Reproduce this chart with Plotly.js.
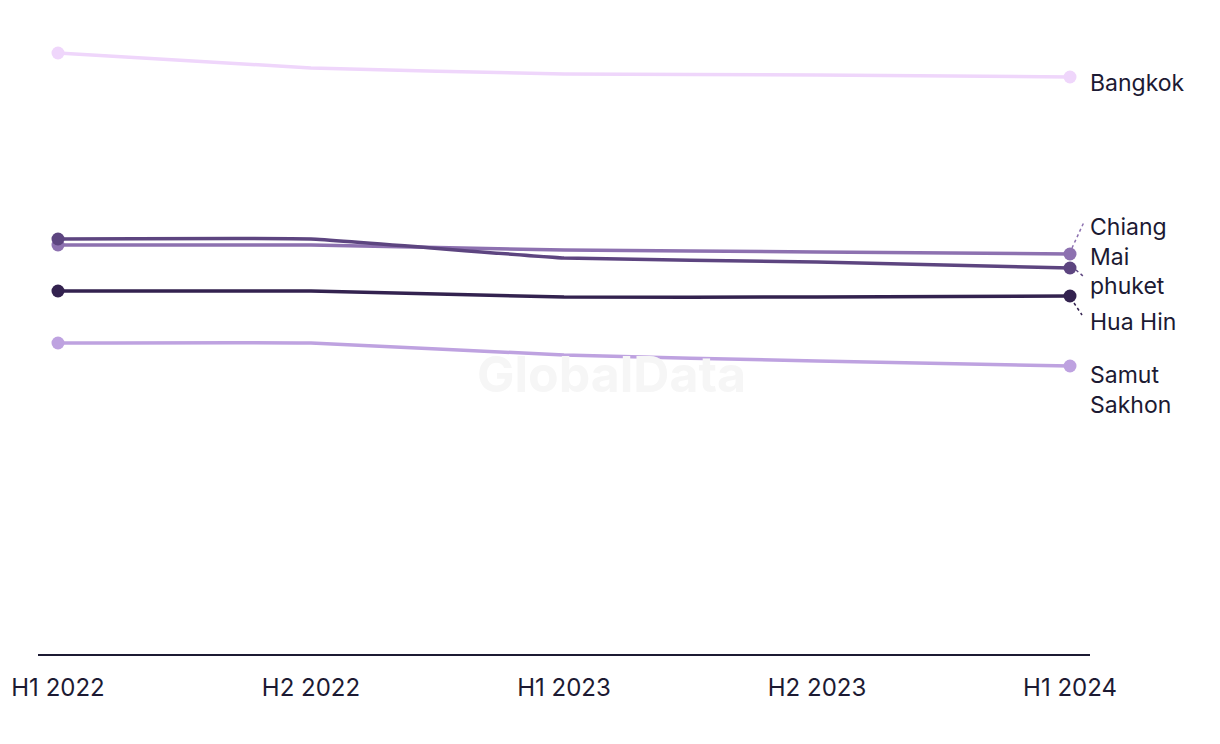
<!DOCTYPE html>
<html>
<head>
<meta charset="utf-8">
<script src="https://cdn.plot.ly/plotly-3.0.1.min.js"></script>
<style>html,body{margin:0;padding:0;background:#fff;}#chart{width:1220px;height:744px;}</style>
</head>
<body>
<div id="chart"></div>
<script>
const periods = ["H1 2022", "H2 2022", "H1 2023", "H2 2023", "H1 2024"];
const bangkok = [601, 586, 580, 579, 577];
const chiangMai = [409, 409, 404, 402, 400];
const phuket = [415, 415, 396, 392, 386];
const huaHin = [363, 363, 357, 357, 358];
const samutSakhon = [311, 311, 299, 293, 288];

const series = [
  {name: "Bangkok", label: "Bangkok", values: bangkok, color: "#efd6fb", dy: -6, lead: null},
  {name: "Samut Sakhon", label: "Samut<br>Sakhon", values: samutSakhon, color: "#bea2e0", dy: -24, lead: null},
  {name: "Chiang Mai", label: "Chiang<br>Mai", values: chiangMai, color: "#8d71b0", dy: 12, lead: [2, 6, 14, 32]},
  {name: "phuket", label: "phuket", values: phuket, color: "#5d4580", dy: -18, lead: [6, -2, 13, -8]},
  {name: "Hua Hin", label: "Hua Hin", values: huaHin, color: "#33224f", dy: -26, lead: [4, -7, 12, -19]}
];

const last = periods.length - 1;
const traces = series.map(s => ({
  type: "scatter",
  mode: "lines+markers",
  name: s.name,
  x: periods,
  y: s.values,
  line: {color: s.color, width: 3.5, shape: "spline", smoothing: 0.3},
  marker: {color: s.color, opacity: 1, line: {width: 0},
           size: periods.map((p, i) => (i === 0 || i === last) ? 13 : 0)},
  hoverinfo: "x+y+name"
}));

const annotations = series.map(s => ({
  xref: "x", yref: "y",
  x: periods[last], y: s.values[last],
  text: s.label,
  showarrow: false,
  xanchor: "left", yanchor: "middle", align: "left",
  xshift: 18, yshift: s.dy,
  font: {family: "Inter, 'Noto Sans', sans-serif", size: 23, color: "#1c1a33"}
}));
annotations.push({
  xref: "paper", yref: "paper", x: 0.545, y: 0.445,
  text: "<b>GlobalData</b>", showarrow: false,
  font: {family: "Inter, 'Noto Sans', sans-serif", size: 50, color: "#f6f6f6"}
});

const shapes = series.filter(s => s.lead).map(s => ({
  type: "line", xref: "x", yref: "y",
  xsizemode: "pixel", ysizemode: "pixel",
  xanchor: periods[last], yanchor: s.values[last],
  x0: s.lead[0], y0: s.lead[1], x1: s.lead[2], y1: s.lead[3],
  line: {color: s.color, width: 1.5, dash: "dot"}
}));

const layout = {
  width: 1220, height: 744,
  margin: {l: 38, r: 130, t: 24, b: 90},
  paper_bgcolor: "#ffffff", plot_bgcolor: "#ffffff",
  showlegend: false,
  xaxis: {
    type: "category",
    range: [-0.079, 4.079],
    showgrid: false, zeroline: false,
    showline: true, linecolor: "#1c1a33", linewidth: 2,
    ticks: "outside", ticklen: 11, tickcolor: "rgba(0,0,0,0)",
    tickfont: {family: "Inter, 'Noto Sans', sans-serif", size: 24, color: "#1c1a33"}
  },
  yaxis: {
    range: [0, 630],
    showgrid: false, zeroline: false, showline: false,
    showticklabels: false, ticks: ""
  },
  annotations: annotations,
  shapes: shapes
};

Plotly.newPlot("chart", traces, layout, {displayModeBar: false, responsive: false});
</script>
</body>
</html>
